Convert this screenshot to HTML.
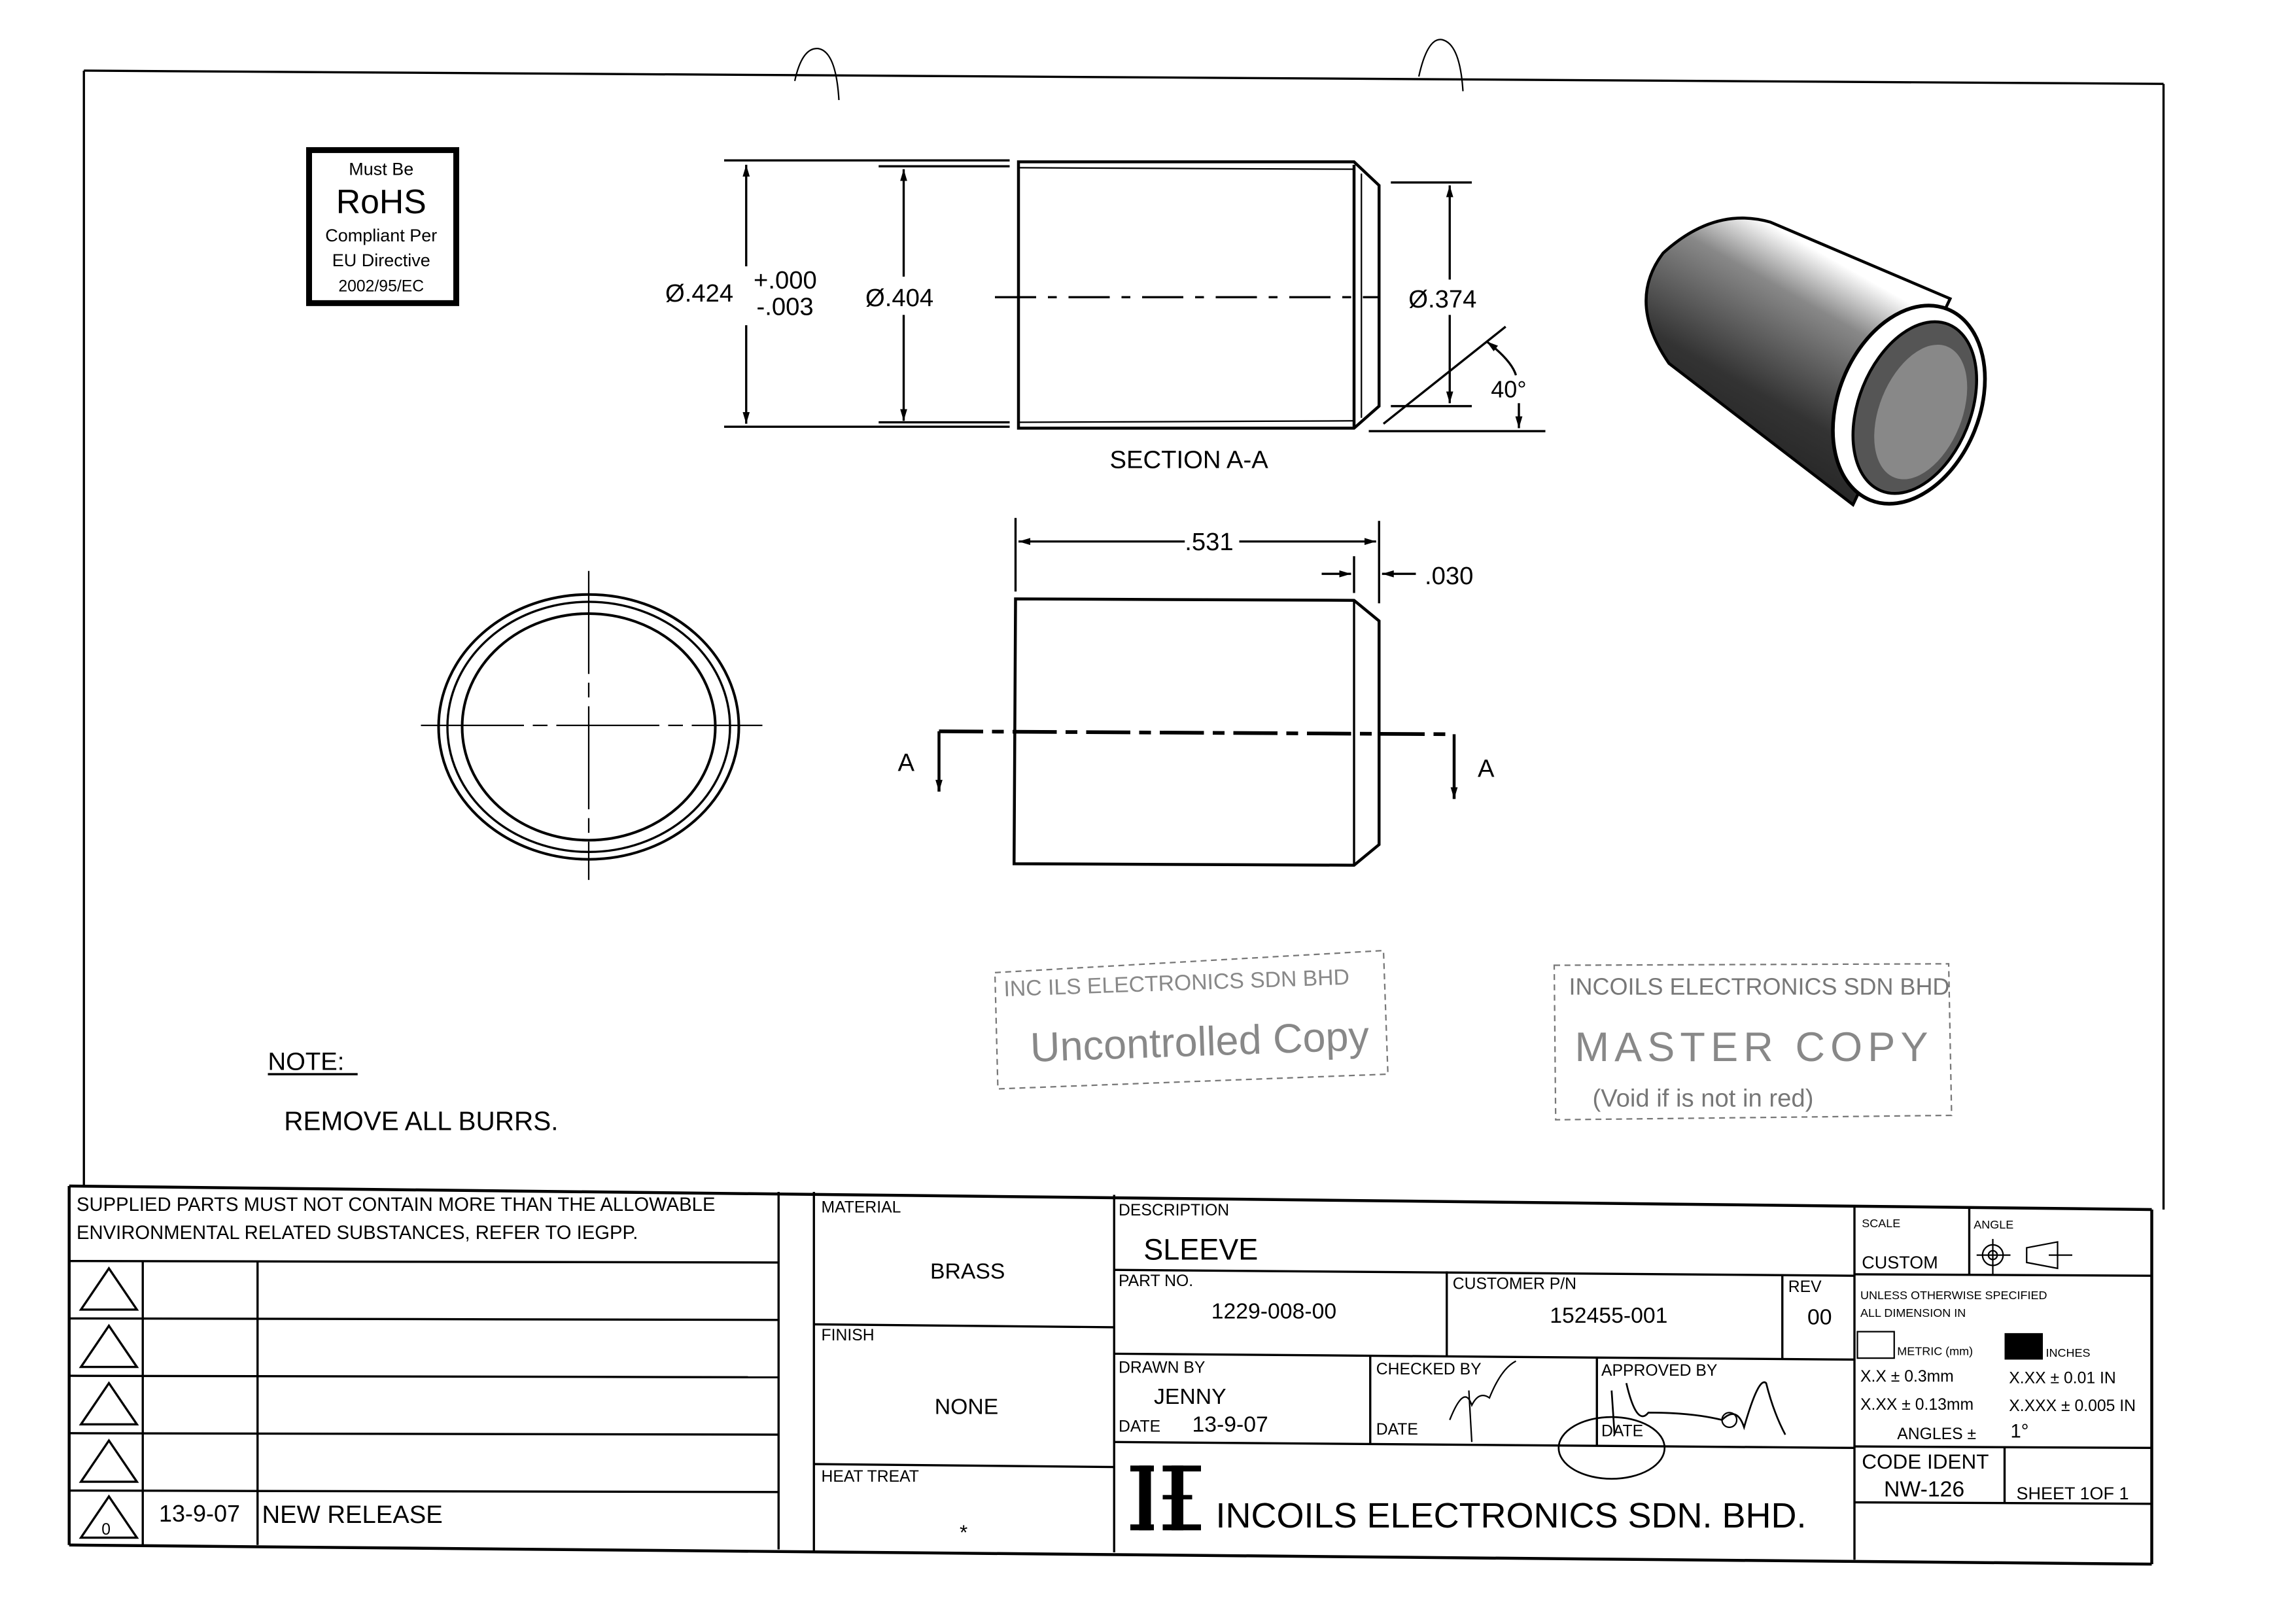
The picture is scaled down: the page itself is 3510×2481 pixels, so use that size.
<!DOCTYPE html>
<html><head><meta charset="utf-8"><style>
html,body{margin:0;padding:0;background:#fff;}
svg{display:block;}
text{font-family:"Liberation Sans",Arial,sans-serif;fill:#000;}
</style></head><body>
<svg width="3510" height="2481" viewBox="0 0 1560 1103" preserveAspectRatio="none" xmlns="http://www.w3.org/2000/svg">
<defs>
<marker id="ar" viewBox="0 0 10 10" refX="10" refY="5" markerWidth="8" markerHeight="8" orient="auto-start-reverse" markerUnits="userSpaceOnUse"><path d="M0,2 L10,5 L0,8 Z" fill="#000"/></marker>
<linearGradient id="cyl" x1="0" y1="1" x2="0.6" y2="0">
<stop offset="0" stop-color="#111"/><stop offset="0.45" stop-color="#333"/><stop offset="0.75" stop-color="#888"/><stop offset="0.9" stop-color="#fff"/><stop offset="1" stop-color="#fff"/></linearGradient>
</defs>
<g stroke="#000" fill="none" stroke-width="1.5">
<!-- border -->
<line x1="57" y1="48" x2="1470" y2="57"/>
<line x1="57" y1="48" x2="57" y2="806"/>
<line x1="1470" y1="57" x2="1470" y2="822"/>
<!-- binder holes -->
<path d="M540,55 Q545,32 556,33 Q568,35 570,68" stroke-width="1"/>
<path d="M964,52 Q970,25 980,27 Q992,30 994,62" stroke-width="1"/>
<!-- title block outer -->
<line x1="47" y1="806" x2="1462" y2="822" stroke-width="2"/>
<line x1="47" y1="806" x2="47" y2="1050" stroke-width="2"/>
<line x1="47" y1="1050" x2="1462" y2="1063" stroke-width="2"/>
<line x1="1462" y1="822" x2="1462" y2="1063" stroke-width="2"/>
<!-- left block -->
<line x1="529" y1="810" x2="529" y2="1053"/>
<line x1="553" y1="810" x2="553" y2="1054"/>
<line x1="47" y1="857" x2="529" y2="858"/>
<line x1="47" y1="896" x2="529" y2="897"/>
<line x1="47" y1="935" x2="529" y2="936"/>
<line x1="47" y1="974" x2="529" y2="975"/>
<line x1="47" y1="1013" x2="529" y2="1014"/>
<line x1="97" y1="857" x2="97" y2="1050"/>
<line x1="175" y1="857" x2="175" y2="1050"/>
<!-- triangles -->
<path d="M55,890 L74,862 L93,890 Z"/>
<path d="M55,929 L74,901 L93,929 Z"/>
<path d="M55,968 L74,940 L93,968 Z"/>
<path d="M55,1007 L74,979 L93,1007 Z"/>
<path d="M55,1045 L74,1017 L93,1045 Z"/>
<!-- material column -->
<line x1="553" y1="900" x2="757" y2="902"/>
<line x1="553" y1="995" x2="757" y2="997"/>
<line x1="757" y1="812" x2="757" y2="1055"/>
<!-- description -->
<line x1="757" y1="863" x2="1260" y2="867"/>
<line x1="757" y1="920" x2="1260" y2="924"/>
<line x1="757" y1="980" x2="1260" y2="984"/>
<line x1="983" y1="864" x2="983" y2="922"/>
<line x1="1211" y1="866" x2="1211" y2="924"/>
<line x1="931" y1="921" x2="931" y2="982"/>
<line x1="1085" y1="922" x2="1085" y2="983"/>
<line x1="1260" y1="820" x2="1260" y2="1060"/>
<!-- right block -->
<line x1="1338" y1="821" x2="1338" y2="866"/>
<line x1="1260" y1="866" x2="1462" y2="867"/>
<line x1="1260" y1="983" x2="1462" y2="984"/>
<line x1="1362" y1="983" x2="1362" y2="1021"/>
<line x1="1260" y1="1021" x2="1462" y2="1022"/>
<rect x="1262" y="905" width="25" height="18" stroke-width="1"/>
<!-- logo -->
<rect x="774" y="996" width="8" height="44" fill="#000" stroke="none"/>
<rect x="796" y="996" width="8" height="44" fill="#000" stroke="none"/>
<rect x="768" y="996" width="16" height="4" fill="#000" stroke="none"/>
<rect x="768" y="1036" width="16" height="4" fill="#000" stroke="none"/>
<rect x="790" y="996" width="26" height="4" fill="#000" stroke="none"/>
<rect x="790" y="1016" width="20" height="3" fill="#000" stroke="none"/>
<rect x="790" y="1036" width="26" height="4" fill="#000" stroke="none"/>
<!-- angle symbols -->
<circle cx="1354" cy="853" r="7" stroke-width="1"/>
<circle cx="1354" cy="853" r="3" stroke-width="1"/>
<line x1="1343" y1="853" x2="1366" y2="853" stroke-width="1"/>
<line x1="1354" y1="842" x2="1354" y2="866" stroke-width="1"/>
<path d="M1377,848 L1398,844 L1398,862 L1377,858 Z" stroke-width="1"/>
<line x1="1392" y1="853" x2="1408" y2="853" stroke-width="1"/>
<!-- signatures -->
<path d="M985,965 Q995,940 1000,955 Q1005,945 1012,950 Q1020,930 1030,925 M998,945 L1000,980" stroke-width="1"/>
<path d="M1095,945 L1097,975 M1105,940 Q1112,970 1120,960 Q1150,960 1170,965 Q1180,955 1185,970 Q1195,935 1200,940 Q1205,960 1213,975" stroke-width="1.2"/>
<ellipse cx="1095" cy="984" rx="36" ry="21" stroke-width="1.2"/>
<circle cx="1175" cy="965" r="5" stroke-width="1"/>
</g>
<rect x="1362" y="906" width="26" height="18" fill="#000"/>

<!-- RoHS box -->
<rect x="210" y="102" width="100" height="104" fill="none" stroke="#000" stroke-width="4"/>
<g text-anchor="middle">
<text x="259" y="119" font-size="12">Must Be</text>
<text x="259" y="145" font-size="23">RoHS</text>
<text x="259" y="164" font-size="12">Compliant Per</text>
<text x="259" y="181" font-size="12">EU Directive</text>
<text x="259" y="198" font-size="11">2002/95/EC</text>
</g>

<!-- Section A-A -->
<g stroke="#000" fill="none" stroke-width="1.5">
<path d="M692,110 L920,110 L937,126 L937,276 L920,291 L692,291 Z" stroke-width="2"/>
<line x1="692" y1="114" x2="920" y2="115" stroke-width="1"/>
<line x1="692" y1="287" x2="920" y2="286" stroke-width="1"/>
<line x1="920" y1="112" x2="920" y2="290" stroke-width="2"/>
<line x1="925" y1="118" x2="925" y2="284" stroke-width="1"/>
<line x1="492" y1="109" x2="686" y2="109"/>
<line x1="492" y1="290" x2="686" y2="290"/>
<line x1="597" y1="113" x2="686" y2="113"/>
<line x1="597" y1="287" x2="686" y2="287"/>
<line x1="507" y1="112" x2="507" y2="181" marker-start="url(#ar)"/>
<line x1="507" y1="221" x2="507" y2="288" marker-end="url(#ar)"/>
<line x1="614" y1="115" x2="614" y2="188" marker-start="url(#ar)"/>
<line x1="614" y1="214" x2="614" y2="286" marker-end="url(#ar)"/>
<line x1="676" y1="202" x2="937" y2="202" stroke-dasharray="28,8,6,8"/>
<line x1="945" y1="124" x2="1000" y2="124"/>
<line x1="945" y1="276" x2="1000" y2="276"/>
<line x1="985" y1="126" x2="985" y2="190" marker-start="url(#ar)"/>
<line x1="985" y1="214" x2="985" y2="274" marker-end="url(#ar)"/>
<line x1="940" y1="288" x2="1023" y2="222"/>
<line x1="930" y1="293" x2="1050" y2="293"/>
<path d="M1010,232 Q1027,245 1030,255" marker-start="url(#ar)"/>
<line x1="1032" y1="274" x2="1032" y2="291" marker-end="url(#ar)"/>
</g>
<text x="452" y="205" font-size="17">Ø.424</text>
<text x="512" y="196" font-size="17">+.000</text>
<text x="514" y="214" font-size="17">-.003</text>
<text x="588" y="208" font-size="17">Ø.404</text>
<text x="957" y="209" font-size="17">Ø.374</text>
<text x="1013" y="270" font-size="16">40°</text>
<text x="754" y="318" font-size="17">SECTION  A-A</text>

<!-- side view -->
<g stroke="#000" fill="none" stroke-width="1.5">
<path d="M690,407 L920,408 L937,422 L937,574 L920,588 L689,587 Z" stroke-width="2"/>
<line x1="920" y1="408" x2="920" y2="588"/>
<line x1="690" y1="352" x2="690" y2="402"/>
<line x1="937" y1="354" x2="937" y2="410"/>
<line x1="920" y1="378" x2="920" y2="403"/>
<line x1="692" y1="368" x2="805" y2="368" marker-start="url(#ar)"/>
<line x1="842" y1="368" x2="935" y2="368" marker-end="url(#ar)"/>
<line x1="898" y1="390" x2="918" y2="390" marker-end="url(#ar)"/>
<line x1="962" y1="390" x2="939" y2="390" marker-end="url(#ar)"/>
<line x1="638" y1="497" x2="988" y2="499" stroke-width="2.5" stroke-dasharray="30,6,8,6"/>
<line x1="638" y1="497" x2="638" y2="538" stroke-width="2" marker-end="url(#ar)"/>
<line x1="988" y1="499" x2="988" y2="543" stroke-width="2" marker-end="url(#ar)"/>
</g>
<text x="805" y="374" font-size="17">.531</text>
<text x="968" y="397" font-size="17">.030</text>
<text x="610" y="524" font-size="17">A</text>
<text x="1004" y="528" font-size="17">A</text>

<!-- end view -->
<g stroke="#000" fill="none">
<ellipse cx="400" cy="494" rx="102" ry="90" stroke-width="1.8"/>
<ellipse cx="400" cy="494" rx="96" ry="85" stroke-width="1.5"/>
<ellipse cx="400" cy="494" rx="86" ry="77" stroke-width="1.8"/>
<line x1="286" y1="493" x2="518" y2="493" stroke-width="1" stroke-dasharray="70,6,10,6"/>
<line x1="400" y1="388" x2="400" y2="598" stroke-width="1" stroke-dasharray="70,6,10,6"/>
</g>

<!-- 3D cylinder -->
<path d="M1203,151 L1325,203 L1259,343 L1134,247 Q1105,205 1130,172 Q1165,140 1203,151 Z" fill="url(#cyl)" stroke="#000" stroke-width="2"/>
<ellipse cx="1297" cy="275" rx="48" ry="70" transform="rotate(22 1297 275)" fill="#fff" stroke="#000" stroke-width="2.5"/>
<ellipse cx="1301" cy="277" rx="38" ry="61" transform="rotate(22 1301 277)" fill="#555" stroke="#000" stroke-width="2"/>
<ellipse cx="1305" cy="280" rx="28" ry="48" transform="rotate(22 1305 280)" fill="#888" stroke="none"/>

<!-- stamps -->
<g stroke="#777" fill="none" stroke-width="1" stroke-dasharray="4,3">
<path d="M676,661 L940,646 L943,730 L678,740 Z"/>
<path d="M1056,656 L1324,655 L1326,758 L1057,761 Z"/>
</g>
<g fill="#888" font-family="'Liberation Serif',serif">
<text x="682" y="673" font-size="15" style="fill:#888" transform="rotate(-2 800 670)">INC  ILS ELECTRONICS SDN BHD</text>
<text x="700" y="718" font-size="28" style="fill:#888" transform="rotate(-2 800 710)">Uncontrolled Copy</text>
<text x="1066" y="676" font-size="16" style="fill:#777">INCOILS ELECTRONICS SDN BHD</text>
<text x="1070" y="721" font-size="28" style="fill:#888" textLength="240">MASTER COPY</text>
<text x="1082" y="752" font-size="17" style="fill:#777">(Void if is not in red)</text>
</g>

<!-- note -->
<text x="182" y="727" font-size="17">NOTE:</text>
<line x1="182" y1="730" x2="243" y2="730" stroke="#000" stroke-width="1.5"/>
<text x="193" y="768" font-size="18">REMOVE ALL BURRS.</text>

<!-- title block text -->
<text x="52" y="823" font-size="13">SUPPLIED PARTS MUST NOT CONTAIN MORE THAN THE ALLOWABLE</text>
<text x="52" y="842" font-size="13">ENVIRONMENTAL RELATED SUBSTANCES, REFER TO IEGPP.</text>
<text x="69" y="1043" font-size="11">0</text>
<text x="108" y="1034" font-size="16">13-9-07</text>
<text x="178" y="1035" font-size="17">NEW RELEASE</text>
<text x="558" y="824" font-size="11">MATERIAL</text>
<text x="632" y="869" font-size="15">BRASS</text>
<text x="558" y="911" font-size="11">FINISH</text>
<text x="635" y="961" font-size="15">NONE</text>
<text x="558" y="1007" font-size="11">HEAT TREAT</text>
<text x="652" y="1046" font-size="14">*</text>
<text x="760" y="826" font-size="11">DESCRIPTION</text>
<text x="777" y="856" font-size="20">SLEEVE</text>
<text x="760" y="874" font-size="11">PART NO.</text>
<text x="823" y="896" font-size="15">1229-008-00</text>
<text x="987" y="876" font-size="11">CUSTOMER P/N</text>
<text x="1053" y="899" font-size="15">152455-001</text>
<text x="1215" y="878" font-size="11">REV</text>
<text x="1228" y="900" font-size="15">00</text>
<text x="760" y="933" font-size="11">DRAWN BY</text>
<text x="784" y="954" font-size="15">JENNY</text>
<text x="760" y="973" font-size="11">DATE</text>
<text x="810" y="973" font-size="15">13-9-07</text>
<text x="935" y="934" font-size="11">CHECKED BY</text>
<text x="935" y="975" font-size="11">DATE</text>
<text x="1088" y="935" font-size="11">APPROVED BY</text>
<text x="1088" y="976" font-size="11">DATE</text>
<text x="826" y="1038" font-size="24">INCOILS ELECTRONICS SDN. BHD.</text>
<text x="1265" y="834" font-size="8">SCALE</text>
<text x="1341" y="835" font-size="8">ANGLE</text>
<text x="1265" y="862" font-size="12">CUSTOM</text>
<text x="1264" y="883" font-size="8">UNLESS OTHERWISE SPECIFIED</text>
<text x="1264" y="895" font-size="8">ALL DIMENSION IN</text>
<text x="1289" y="921" font-size="8">METRIC (mm)</text>
<text x="1390" y="922" font-size="8">INCHES</text>
<text x="1264" y="939" font-size="11">X.X ± 0.3mm</text>
<text x="1365" y="940" font-size="11">X.XX ± 0.01 IN</text>
<text x="1264" y="958" font-size="11">X.XX ± 0.13mm</text>
<text x="1365" y="959" font-size="11">X.XXX ± 0.005 IN</text>
<text x="1289" y="978" font-size="11">ANGLES ±</text>
<text x="1366" y="977" font-size="13">1°</text>
<text x="1265" y="998" font-size="14">CODE IDENT</text>
<text x="1280" y="1017" font-size="15">NW-126</text>
<text x="1370" y="1019" font-size="12">SHEET 1OF 1</text>
</svg>
</body></html>
